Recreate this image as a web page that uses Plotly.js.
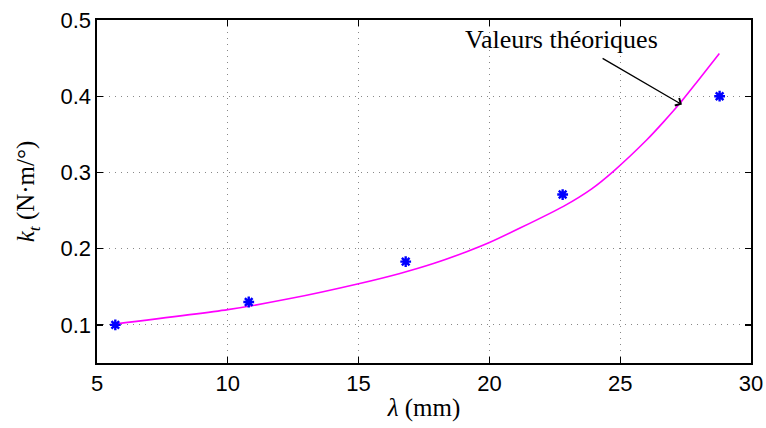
<!DOCTYPE html>
<html>
<head>
<meta charset="utf-8">
<script src="https://cdn.plot.ly/plotly-3.0.1.min.js"></script>
<style>html,body{margin:0;padding:0;background:#fff;}#chart{width:766px;height:428px;}</style>
</head>
<body>
<div id="chart"></div>
<script>
// Measured values (blue asterisks)
const lambdaMeasured = [5.7, 10.8, 16.8, 22.8, 28.8];
const ktMeasured = [0.100, 0.130, 0.183, 0.271, 0.400];

// Theoretical curve (magenta)
const lambdaTheory = [5.65, 10.0, 12.38, 15.0, 16.58, 17.86, 19.13, 20.0, 21.17, 22.83, 23.91, 24.74, 26.01, 26.65, 27.29, 27.92, 28.79];
const ktTheory = [0.101, 0.120, 0.1345, 0.154, 0.1675, 0.1805, 0.196, 0.208, 0.227, 0.2555, 0.2785, 0.3015, 0.3425, 0.366, 0.391, 0.418, 0.456];

const xTickVals = [5, 10, 15, 20, 25, 30];
const yTickVals = [0.1, 0.2, 0.3, 0.4, 0.5];
const yTickText = ['0.1', '0.2', '0.3', '0.4', '0.5'];

const annotationText = 'Valeurs théoriques';

const traces = [
  {
    x: lambdaTheory, y: ktTheory, type: 'scatter', mode: 'lines',
    line: {color: '#ff00ff', width: 1.6, shape: 'spline', smoothing: 0.6},
    hoverinfo: 'skip', showlegend: false
  },
  {
    x: lambdaMeasured, y: ktMeasured, type: 'scatter', mode: 'markers',
    marker: {symbol: 'asterisk-open', size: 9, color: '#0000ff', line: {color: '#0000ff', width: 2.4}},
    showlegend: false
  }
];

const axisCommon = {
  showline: true, linecolor: '#000', linewidth: 1.6, mirror: 'ticks',
  ticks: 'inside', ticklen: 6, tickwidth: 1.3, tickcolor: '#000',
  showgrid: true, gridcolor: '#888', griddash: '1px,5px', gridwidth: 1,
  zeroline: false,
  tickfont: {family: 'Liberation Sans, Arial, sans-serif', size: 22, color: '#000'}
};

const serif = 'Liberation Serif, Times New Roman, serif';

const layout = {
  width: 766, height: 428,
  margin: {l: 97, r: 15, t: 20, b: 65},
  paper_bgcolor: '#fff', plot_bgcolor: '#fff',
  xaxis: Object.assign({}, axisCommon, {
    range: [5, 30], tickvals: xTickVals,
    title: {text: '<i>λ</i> (mm)', font: {family: serif, size: 25, color: '#000'}, standoff: 3}
  }),
  yaxis: Object.assign({}, axisCommon, {
    range: [0.05, 0.5], tickvals: yTickVals, ticktext: yTickText,
    title: {text: '<i>k<sub>t</sub></i> (N·m/°)', font: {family: serif, size: 25, color: '#000'}, standoff: 18}
  }),
  annotations: [
    {
      xref: 'x', yref: 'y', x: 22.74, y: 0.4744,
      text: annotationText, showarrow: false,
      font: {family: serif, size: 26, color: '#000'}
    },
    {
      xref: 'x', yref: 'y', x: 27.36, y: 0.389,
      axref: 'x', ayref: 'y', ax: 24.27, ay: 0.4508,
      text: '', showarrow: true, arrowhead: 4, arrowsize: 1.3, arrowwidth: 1.3, arrowcolor: '#000',
      standoff: 0, startstandoff: 0
    }
  ]
};

Plotly.newPlot('chart', traces, layout, {displayModeBar: false, staticPlot: true});
</script>
</body>
</html>
